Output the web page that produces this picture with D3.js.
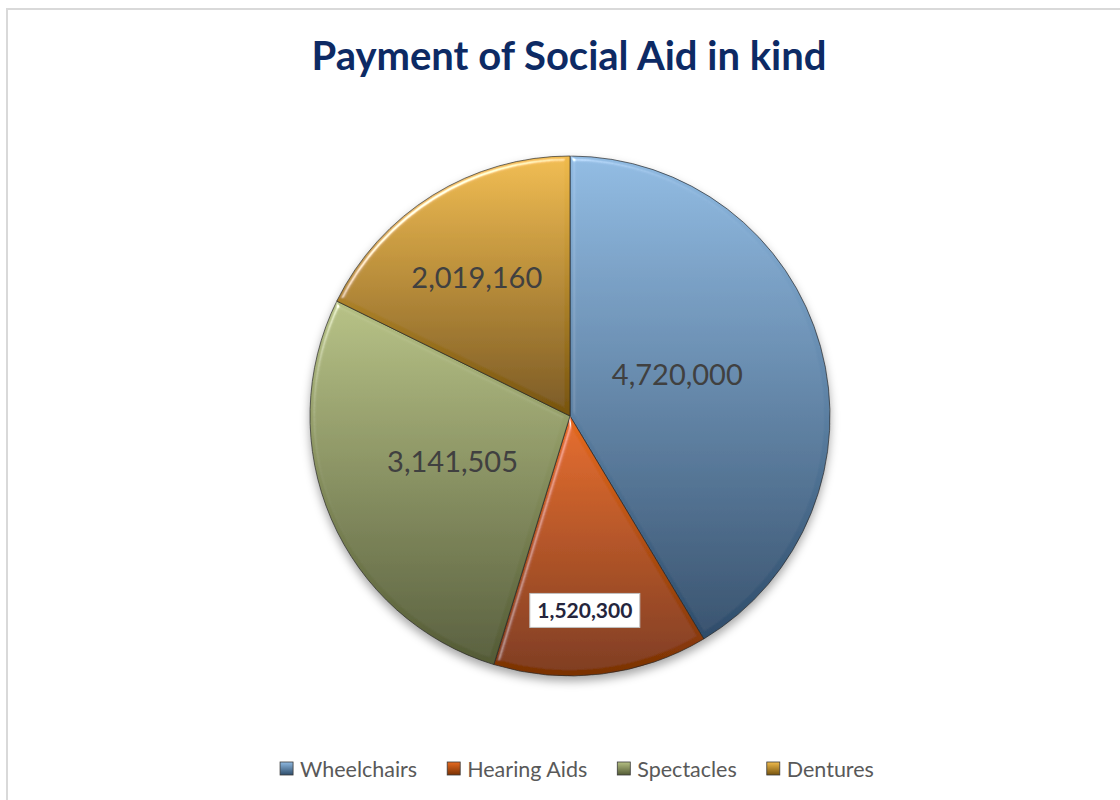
<!DOCTYPE html>
<html>
<head>
<meta charset="utf-8">
<script src="https://cdn.jsdelivr.net/npm/d3@7"></script>
<style>
  html, body { margin: 0; padding: 0; background: #ffffff; }
  svg { display: block; }
</style>
</head>
<body>
<svg id="chart" width="1120" height="800"></svg>
<script>
// Data
const categories = ["Wheelchairs", "Hearing Aids", "Spectacles", "Dentures"];
const amounts = [4720000, 1520300, 3141505, 2019160];

// Slice shading: light top colour, dark bottom colour
const topColors = ["#8fbae2", "#e66a20", "#b5c083", "#f0bb4c"];
const bottomColors = ["#2e4c6a", "#7a3204", "#535a35", "#76530e"];

// Value label placement: share of the radius, and a small turn (degrees) off the mid-angle
const labelRadius = [0.442, 0.75, 0.485, 0.643];
const labelTurn = [-5.5, 2.6, 2, -2];

const W = 1120, H = 800;
const cx = 570, cy = 416, R = 260;
const FONT = "Lato, 'Open Sans', sans-serif";

const svg = d3.select("#chart");
const defs = svg.append("defs");

// Outer frame
svg.append("rect")
  .attr("x", 7).attr("y", 9)
  .attr("width", W + 20).attr("height", H + 20)
  .attr("fill", "#ffffff")
  .attr("stroke", "#d9d9d9").attr("stroke-width", 2);

// Title
svg.append("text")
  .attr("x", 569).attr("y", 70)
  .attr("text-anchor", "middle")
  .attr("font-family", FONT)
  .attr("font-weight", "bold")
  .attr("font-size", 40)
  .attr("fill", "#0d2a64")
  .text("Payment of Social Aid in kind");

// Gradients
categories.forEach((c, i) => {
  const g = defs.append("linearGradient")
    .attr("id", "grad" + i)
    .attr("x1", 0).attr("y1", 0).attr("x2", 0).attr("y2", 1);
  g.append("stop").attr("offset", "0%").attr("stop-color", topColors[i]);
  g.append("stop").attr("offset", "100%").attr("stop-color", bottomColors[i]);
});

// Soft shadow under the pie
const shadow = defs.append("filter").attr("id", "shadow")
  .attr("x", "-20%").attr("y", "-20%").attr("width", "140%").attr("height", "140%");
shadow.append("feDropShadow")
  .attr("dx", 0).attr("dy", 5).attr("stdDeviation", 5)
  .attr("flood-color", "#000").attr("flood-opacity", 0.35);

// Bevel lighting on each slice
const bevel = defs.append("filter").attr("id", "bevel")
  .attr("x", "-5%").attr("y", "-5%").attr("width", "110%").attr("height", "110%");
bevel.append("feGaussianBlur").attr("in", "SourceAlpha").attr("stdDeviation", 2.5).attr("result", "blur");
const spec = bevel.append("feSpecularLighting")
  .attr("in", "blur").attr("surfaceScale", 3.5)
  .attr("specularConstant", 0.85).attr("specularExponent", 40)
  .attr("lighting-color", "#ffffff").attr("result", "spec");
spec.append("feDistantLight").attr("azimuth", 235).attr("elevation", 40);
bevel.append("feComposite").attr("in", "spec").attr("in2", "SourceAlpha")
  .attr("operator", "in").attr("result", "specIn");
bevel.append("feComposite").attr("in", "SourceGraphic").attr("in2", "specIn")
  .attr("operator", "arithmetic")
  .attr("k1", 0).attr("k2", 1).attr("k3", 1).attr("k4", 0);

const pie = d3.pie().sort(null).value(d => d)(amounts);
const arc = d3.arc().innerRadius(0).outerRadius(R);

const pieG = svg.append("g")
  .attr("transform", `translate(${cx},${cy})`)
  .attr("filter", "url(#shadow)");

pieG.selectAll("path.slice")
  .data(pie)
  .join("path")
  .attr("class", "slice")
  .attr("d", arc)
  .attr("fill", (d, i) => `url(#grad${i})`)
  .attr("filter", "url(#bevel)")
  .attr("stroke", "#262626")
  .attr("stroke-opacity", 0.75)
  .attr("stroke-width", 0.9);

// Value labels
const fmt = d3.format(",");
const labelsG = svg.append("g").attr("transform", `translate(${cx},${cy})`);

pie.forEach((d, i) => {
  const r = R * labelRadius[i];
  const a = (d.startAngle + d.endAngle) / 2 + labelTurn[i] * Math.PI / 180;
  const x = r * Math.sin(a), y = -r * Math.cos(a);
  if (i === 1) {
    // boxed label on the small slice
    const t = labelsG.append("text")
      .attr("x", x).attr("y", y)
      .attr("dy", "0.36em")
      .attr("text-anchor", "middle")
      .attr("font-family", FONT)
      .attr("font-size", 21)
      .attr("font-weight", "bold")
      .attr("fill", "#25253d")
      .text(fmt(d.data));
    const bb = t.node().getBBox();
    labelsG.insert("rect", "text")
      .attr("x", x - 55).attr("y", y - 17)
      .attr("width", 110).attr("height", 34)
      .attr("fill", "#ffffff")
      .attr("stroke", "#bfbfbf").attr("stroke-width", 1);
  } else {
    labelsG.append("text")
      .attr("x", x).attr("y", y)
      .attr("dy", "0.36em")
      .attr("text-anchor", "middle")
      .attr("font-family", FONT)
      .attr("font-size", 29)
      .attr("fill", "#404040")
      .text(fmt(d.data));
  }
});

// Legend: swatch, gap, label, spacing — laid out from measured text, centred
const legendG = svg.append("g");
const sw = 13, swGap = 7, itemGap = 30, legendCenter = 577, legendBase = 777;
const items = categories.map((c, i) => {
  const t = legendG.append("text")
    .attr("y", legendBase)
    .attr("font-family", FONT)
    .attr("font-size", 21.5)
    .attr("fill", "#595959")
    .text(c);
  return { t, w: t.node().getComputedTextLength(), i };
});
const total = d3.sum(items, d => sw + swGap + d.w) + itemGap * (items.length - 1);
let lx = legendCenter - total / 2;
items.forEach(d => {
  legendG.append("rect")
    .attr("x", lx).attr("y", 762)
    .attr("width", sw).attr("height", sw)
    .attr("fill", `url(#grad${d.i})`)
    .attr("stroke", "#3a3a3a").attr("stroke-width", 0.8);
  d.t.attr("x", lx + sw + swGap);
  lx += sw + swGap + d.w + itemGap;
});
</script>
</body>
</html>
